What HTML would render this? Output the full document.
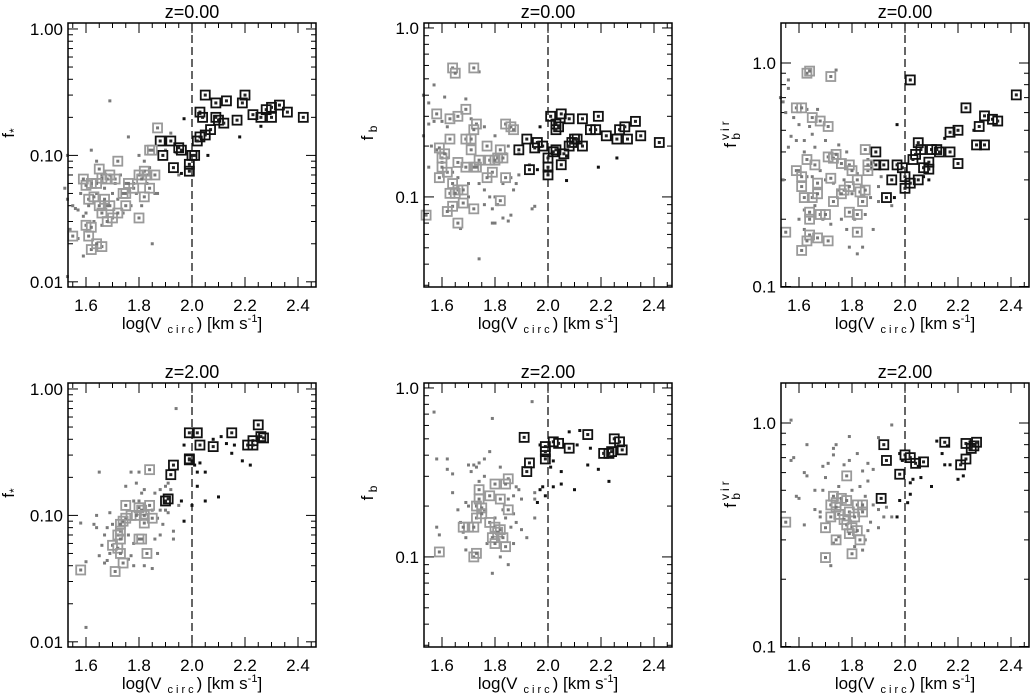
<!DOCTYPE html>
<html><head><meta charset="utf-8"><style>
html,body{margin:0;padding:0;background:#fff;}
svg{display:block;font-family:"Liberation Sans",sans-serif;}
</style></head><body>
<svg id="fig" width="1031" height="695" viewBox="0 0 1031 695" xmlns="http://www.w3.org/2000/svg"></svg>
<script>
// ---- data: [logVcirc, value] pairs ----
const p1Boxed=[[2.05,0.30],[2.09,0.26],[2.13,0.27],[2.19,0.26],[2.20,0.30],[2.03,0.22],[2.04,0.20],[2.09,0.20],[2.10,0.19],[2.12,0.18],[2.17,0.19],[2.23,0.21],[2.26,0.20],[2.28,0.23],[2.30,0.24],[2.30,0.20],[2.33,0.25],[2.36,0.22],[2.42,0.20],[2.07,0.16],[2.05,0.145],[2.03,0.14],[2.02,0.13],[2.00,0.10],[2.01,0.10],[1.99,0.085],[1.99,0.075],[1.96,0.11],[1.95,0.115],[1.92,0.13],[1.89,0.10],[1.93,0.08],
[1.87,0.165],[1.88,0.13],[1.84,0.11],[1.85,0.11],[1.83,0.07],[1.86,0.07],[1.82,0.075],[1.80,0.07],[1.81,0.065],[1.84,0.055],[1.82,0.047],[1.80,0.032],[1.78,0.055],[1.76,0.06],[1.75,0.05],[1.74,0.05],[1.72,0.09],[1.71,0.065],[1.69,0.07],[1.68,0.065],[1.66,0.066],[1.65,0.078],[1.64,0.06],[1.62,0.06],[1.60,0.058],[1.61,0.045],[1.63,0.047],[1.65,0.04],[1.67,0.045],[1.69,0.04],[1.66,0.035],[1.70,0.032],[1.68,0.03],[1.72,0.035],[1.75,0.04],[1.60,0.028],[1.62,0.027],[1.55,0.023],[1.61,0.023],[1.62,0.018],[1.66,0.019],[1.64,0.02],[1.59,0.065]];
const p1Small=[[1.53,0.10],[1.52,0.055],[1.53,0.045],[1.55,0.04],[1.56,0.038],[1.58,0.05],[1.57,0.037],[1.59,0.033],[1.60,0.035],[1.54,0.026],[1.57,0.022],[1.59,0.016],[1.62,0.11],[1.64,0.09],[1.66,0.07],[1.69,0.27],[1.76,0.14],[1.75,0.06],[1.78,0.06],[1.80,0.10],[1.82,0.09],[1.84,0.08],[1.86,0.05],[1.87,0.05],[1.85,0.02],[1.77,0.04],[1.74,0.035],[1.72,0.045],[1.70,0.05],[1.68,0.04],[1.66,0.028],[1.63,0.03],[1.61,0.04],[1.71,0.06],[1.73,0.07],[1.79,0.05],[1.81,0.04],[1.83,0.06],[1.53,0.011],[1.64,0.05],[1.67,0.055],
[1.97,0.195],[1.92,0.15],[1.90,0.11],[1.94,0.105],[1.95,0.07],[1.96,0.072],[2.06,0.10],[2.18,0.14],[2.26,0.17],[2.03,0.215]];
const p2Boxed=[[2.01,0.30],[2.05,0.31],[2.03,0.27],[2.04,0.26],[2.03,0.25],[2.08,0.29],[2.13,0.29],[2.19,0.30],[2.16,0.25],[2.18,0.25],[2.22,0.23],[2.26,0.22],[2.27,0.25],[2.29,0.26],[2.30,0.22],[2.33,0.28],[2.35,0.23],[2.42,0.21],[2.10,0.22],[2.09,0.21],[2.11,0.22],[2.13,0.20],[2.08,0.20],[2.06,0.18],[2.02,0.185],[2.03,0.19],[2.00,0.17],[2.00,0.15],[2.00,0.135],[1.98,0.20],[1.96,0.21],[1.95,0.195],[1.92,0.22],[1.89,0.19],[1.93,0.145],[2.05,0.155],
[1.64,0.58],[1.65,0.54],[1.72,0.58],[1.58,0.31],[1.63,0.29],[1.66,0.30],[1.69,0.33],[1.73,0.27],[1.72,0.25],[1.69,0.22],[1.71,0.22],[1.63,0.22],[1.84,0.27],[1.86,0.26],[1.87,0.25],[1.77,0.20],[1.82,0.19],[1.81,0.17],[1.83,0.17],[1.78,0.165],[1.80,0.165],[1.74,0.165],[1.72,0.15],[1.69,0.15],[1.66,0.16],[1.60,0.17],[1.59,0.195],[1.61,0.18],[1.62,0.14],[1.59,0.13],[1.64,0.12],[1.66,0.11],[1.68,0.11],[1.63,0.105],[1.65,0.105],[1.64,0.088],[1.62,0.082],[1.68,0.092],[1.72,0.085],[1.66,0.07],[1.54,0.078],[1.79,0.14],[1.77,0.13],[1.84,0.13],[1.82,0.095],[1.71,0.19],[1.60,0.15],[1.73,0.15]];
const p2Small=[[1.53,0.40],[1.55,0.36],[1.57,0.46],[1.61,0.39],[1.69,0.38],[1.74,0.55],[1.55,0.27],[1.57,0.28],[1.60,0.28],[1.62,0.26],[1.71,0.29],[1.76,0.26],[1.80,0.23],[1.85,0.20],[1.53,0.23],[1.56,0.20],[1.58,0.19],[1.60,0.16],[1.62,0.17],[1.55,0.15],[1.64,0.14],[1.66,0.13],[1.70,0.12],[1.74,0.12],[1.76,0.11],[1.78,0.10],[1.80,0.10],[1.83,0.12],[1.86,0.13],[1.88,0.12],[1.87,0.11],[1.79,0.085],[1.81,0.09],[1.70,0.10],[1.67,0.065],[1.79,0.07],[1.80,0.07],[1.83,0.075],[1.86,0.078],[1.85,0.072],[1.74,0.043],[1.76,0.09],[1.89,0.135],[1.84,0.18],
[1.97,0.26],[1.93,0.155],[1.96,0.145],[1.94,0.085],[1.95,0.088],[2.07,0.125],[2.19,0.15],[2.26,0.17],[2.07,0.175],[1.89,0.18]];
const p3Boxed=[[2.02,0.84],[2.42,0.72],[2.23,0.63],[2.30,0.58],[2.33,0.56],[2.35,0.55],[2.28,0.52],[2.17,0.49],[2.20,0.50],[2.05,0.44],[2.06,0.41],[2.10,0.41],[2.12,0.41],[2.13,0.40],[2.17,0.40],[2.04,0.39],[2.03,0.37],[2.09,0.36],[2.07,0.34],[2.09,0.335],[2.20,0.355],[2.27,0.43],[2.30,0.43],[1.99,0.34],[1.97,0.35],[1.92,0.35],[1.89,0.35],[1.89,0.40],[2.00,0.31],[2.02,0.29],[2.05,0.30],[1.95,0.30],[1.93,0.25],[2.00,0.275],
[1.63,0.90],[1.64,0.92],[1.72,0.87],[1.59,0.63],[1.65,0.57],[1.68,0.55],[1.71,0.52],[1.85,0.41],[1.63,0.37],[1.71,0.38],[1.73,0.375],[1.74,0.39],[1.66,0.35],[1.79,0.35],[1.76,0.355],[1.80,0.33],[1.86,0.33],[1.86,0.35],[1.59,0.33],[1.61,0.31],[1.61,0.28],[1.67,0.29],[1.72,0.305],[1.77,0.27],[1.79,0.28],[1.82,0.30],[1.83,0.265],[1.85,0.27],[1.76,0.26],[1.62,0.25],[1.65,0.25],[1.67,0.26],[1.73,0.24],[1.64,0.215],[1.68,0.21],[1.70,0.21],[1.64,0.20],[1.79,0.215],[1.84,0.24],[1.82,0.21],[1.55,0.175],[1.64,0.17],[1.67,0.165],[1.71,0.16],[1.63,0.16],[1.61,0.145],[1.82,0.175],[1.61,0.63]];
const p3Small=[[1.53,0.70],[1.54,0.67],[1.56,0.77],[1.56,0.84],[1.74,0.93],[1.55,0.60],[1.58,0.57],[1.60,0.53],[1.63,0.62],[1.64,0.52],[1.67,0.62],[1.57,0.47],[1.59,0.45],[1.62,0.45],[1.65,0.48],[1.56,0.42],[1.62,0.40],[1.66,0.42],[1.70,0.45],[1.75,0.43],[1.78,0.40],[1.60,0.33],[1.63,0.31],[1.65,0.31],[1.68,0.33],[1.70,0.30],[1.73,0.29],[1.77,0.30],[1.82,0.32],[1.86,0.37],[1.88,0.36],[1.90,0.28],[1.87,0.25],[1.84,0.24],[1.80,0.26],[1.75,0.27],[1.62,0.22],[1.66,0.23],[1.69,0.20],[1.72,0.19],[1.76,0.20],[1.78,0.18],[1.81,0.20],[1.85,0.21],[1.88,0.18],[1.90,0.24],[1.79,0.15],[1.84,0.15],[1.82,0.14],[1.60,0.20],[1.62,0.18],[1.54,0.30],
[1.97,0.53],[1.96,0.25],[1.95,0.23],[2.07,0.31],[2.09,0.30],[2.15,0.46],[2.26,0.50],[1.91,0.31]];
const p4Boxed=[[1.99,0.45],[2.02,0.45],[2.15,0.45],[2.25,0.52],[2.26,0.42],[2.27,0.41],[2.23,0.39],[2.21,0.36],[2.23,0.36],[2.03,0.36],[2.08,0.35],[1.99,0.28],[1.99,0.275],
[1.84,0.23],[1.93,0.25],[1.92,0.21],[1.90,0.13],[1.91,0.135],[1.75,0.12],[1.80,0.115],[1.81,0.11],[1.84,0.12],[1.77,0.10],[1.79,0.10],[1.82,0.10],[1.85,0.095],[1.75,0.095],[1.74,0.09],[1.73,0.085],[1.82,0.087],[1.73,0.075],[1.72,0.07],[1.73,0.065],[1.80,0.065],[1.81,0.065],[1.70,0.058],[1.72,0.055],[1.73,0.05],[1.83,0.05],[1.74,0.042],[1.71,0.036],[1.58,0.037]];
const p4Small=[[1.58,0.087],[1.60,0.043],[1.64,0.10],[1.63,0.085],[1.64,0.08],[1.65,0.22],[1.69,0.105],[1.68,0.08],[1.67,0.07],[1.66,0.058],[1.65,0.048],[1.67,0.042],[1.68,0.044],[1.69,0.05],[1.77,0.22],[1.80,0.22],[1.79,0.18],[1.75,0.17],[1.81,0.15],[1.82,0.16],[1.80,0.13],[1.78,0.13],[1.86,0.15],[1.88,0.16],[1.90,0.17],[1.91,0.18],[1.92,0.16],[1.88,0.11],[1.90,0.11],[1.91,0.105],[1.87,0.095],[1.89,0.085],[1.93,0.075],[1.93,0.065],[1.88,0.07],[1.86,0.065],[1.87,0.05],[1.85,0.038],[1.82,0.04],[1.78,0.04],[1.77,0.048],[1.76,0.045],[1.78,0.06],[1.76,0.07],[1.96,0.13],[1.97,0.09],[2.00,0.12],[1.60,0.013],[1.70,0.085],[1.85,0.11],
[1.94,0.70],[1.97,0.36],[2.03,0.26],[2.01,0.25],[2.02,0.22],[2.02,0.17],[2.05,0.22],[2.05,0.13],[2.10,0.14],[2.08,0.40],[2.11,0.42],[2.13,0.37],[2.16,0.36],[2.15,0.31],[2.19,0.27],[2.22,0.25],[1.95,0.12],[2.00,0.27]];
const p5Boxed=[[2.02,0.48],[2.04,0.47],[2.15,0.53],[2.25,0.50],[2.27,0.48],[2.28,0.43],[2.24,0.42],[2.23,0.41],[2.21,0.41],[2.08,0.44],[1.99,0.45],[1.99,0.42],[1.99,0.38],
[1.91,0.51],[1.93,0.36],[1.92,0.32],[1.85,0.29],[1.84,0.27],[1.80,0.27],[1.74,0.25],[1.78,0.23],[1.82,0.22],[1.74,0.22],[1.73,0.20],[1.75,0.195],[1.85,0.19],[1.73,0.17],[1.75,0.18],[1.70,0.15],[1.72,0.15],[1.78,0.16],[1.80,0.15],[1.82,0.145],[1.81,0.14],[1.79,0.13],[1.83,0.13],[1.80,0.12],[1.84,0.115],[1.72,0.10],[1.73,0.105],[1.59,0.107],[1.68,0.15]];
const p5Small=[[1.57,0.72],[1.58,0.38],[1.62,0.38],[1.62,0.33],[1.64,0.31],[1.64,0.24],[1.58,0.15],[1.59,0.135],[1.66,0.19],[1.67,0.16],[1.68,0.14],[1.69,0.13],[1.70,0.35],[1.72,0.35],[1.74,0.36],[1.73,0.34],[1.76,0.38],[1.78,0.42],[1.79,0.66],[1.76,0.30],[1.71,0.32],[1.74,0.28],[1.69,0.21],[1.70,0.20],[1.76,0.19],[1.80,0.17],[1.83,0.19],[1.85,0.22],[1.87,0.23],[1.88,0.26],[1.89,0.25],[1.90,0.22],[1.87,0.18],[1.88,0.16],[1.90,0.145],[1.87,0.12],[1.92,0.13],[1.95,0.17],[1.96,0.21],[1.95,0.22],[1.97,0.25],[1.98,0.26],[1.99,0.23],[1.86,0.15],[1.82,0.10],[1.85,0.09],[1.79,0.08],[1.77,0.12],[1.69,0.11],[1.84,0.17],[1.82,0.34],
[1.94,0.83],[1.97,0.46],[1.98,0.40],[2.01,0.34],[2.02,0.37],[2.02,0.26],[2.05,0.32],[2.05,0.27],[2.10,0.25],[2.08,0.55],[2.11,0.46],[2.12,0.56],[2.16,0.44],[2.15,0.35],[2.19,0.33],[2.23,0.28],[1.95,0.24]];
const p6Boxed=[[2.00,0.72],[2.02,0.70],[2.04,0.66],[2.07,0.67],[2.15,0.82],[2.23,0.81],[2.25,0.77],[2.26,0.79],[2.27,0.82],[2.23,0.69],[2.21,0.65],[1.98,0.59],
[1.92,0.80],[1.93,0.68],[1.91,0.46],[1.78,0.58],[1.73,0.47],[1.74,0.44],[1.72,0.43],[1.74,0.42],[1.76,0.46],[1.78,0.45],[1.82,0.43],[1.84,0.43],[1.84,0.40],[1.79,0.40],[1.75,0.39],[1.72,0.38],[1.77,0.37],[1.81,0.38],[1.78,0.35],[1.80,0.34],[1.79,0.32],[1.82,0.33],[1.70,0.34],[1.74,0.30],[1.83,0.30],[1.80,0.26],[1.70,0.25],[1.55,0.36]];
const p6Small=[[1.57,1.03],[1.58,0.70],[1.57,0.68],[1.63,0.80],[1.62,0.60],[1.63,0.58],[1.59,0.47],[1.66,0.50],[1.69,0.50],[1.69,0.64],[1.71,0.66],[1.73,0.77],[1.74,0.80],[1.73,0.72],[1.77,0.65],[1.79,0.68],[1.79,0.87],[1.82,0.73],[1.86,0.66],[1.90,0.86],[1.84,0.61],[1.88,0.62],[1.86,0.55],[1.83,0.52],[1.80,0.50],[1.70,0.57],[1.75,0.52],[1.68,0.40],[1.66,0.41],[1.68,0.38],[1.71,0.36],[1.85,0.47],[1.88,0.43],[1.90,0.41],[1.93,0.42],[1.92,0.38],[1.95,0.38],[1.90,0.34],[1.87,0.36],[1.86,0.33],[1.85,0.30],[1.84,0.27],[1.75,0.31],[1.73,0.29],[1.72,0.23],[1.81,0.28],[1.62,0.35],[1.97,0.38],[1.98,0.45],[1.60,0.46],
[1.95,0.98],[1.98,0.73],[1.99,0.68],[2.03,0.56],[2.02,0.54],[2.05,0.64],[2.06,0.57],[2.02,0.48],[2.10,0.52],[2.12,0.83],[2.14,0.73],[2.16,0.79],[2.17,0.65],[2.20,0.56],[2.22,0.58],[2.15,0.65],[2.01,0.44]];
const xTicks=[1.6,1.8,2.0,2.2,2.4];
const xTickLabels=["1.6","1.8","2.0","2.2","2.4"];
const titles=["z=0.00","z=0.00","z=0.00","z=2.00","z=2.00","z=2.00"];
const yTicksFstar=[0.01,0.1,1.0], yLabFstar=["0.01","0.10","1.00"];
const yTicksFb=[0.1,1.0], yLabFb=["0.1","1.0"];

const NS="http://www.w3.org/2000/svg";
const svg=document.getElementById('fig');
function mk(tag,attrs,parent){const e=document.createElementNS(NS,tag);for(const k in attrs)e.setAttribute(k,attrs[k]);(parent||svg).appendChild(e);return e;}

const colLeft=[68,424,781], rowTop=[23,383], W=248, H=264;
const yr={fstar:[Math.log10(0.0091),Math.log10(1.115)],fb:[Math.log10(0.0293),Math.log10(1.07)],fbvir:[Math.log10(0.0995),Math.log10(1.51)]};

const panels=[
 {c:0,r:0,t:'fstar',b:p1Boxed,s:p1Small,name:'fstar-z0'},
 {c:1,r:0,t:'fb',b:p2Boxed,s:p2Small,name:'fb-z0'},
 {c:2,r:0,t:'fbvir',b:p3Boxed,s:p3Small,name:'fbvir-z0'},
 {c:0,r:1,t:'fstar',b:p4Boxed,s:p4Small,name:'fstar-z2'},
 {c:1,r:1,t:'fb',b:p5Boxed,s:p5Small,name:'fb-z2'},
 {c:2,r:1,t:'fbvir',b:p6Boxed,s:p6Small,name:'fbvir-z2'}];

panels.forEach((p,i)=>{
  const L=colLeft[p.c], T=rowTop[p.r], B=T+H, R=L+W;
  const g=mk('g',{});
  
  
  const xs=v=>L+124+(v-2)*265;
  const [lo,hi]=yr[p.t];
  const ys=f=>B-(Math.log10(f)-lo)/(hi-lo)*H;
  const tt=mk('text',{x:L+W/2,y:T-5,'text-anchor':'middle','font-size':18,fill:'#000'},g);
  tt.textContent=titles[i];
  
  
  for(let v=1.55;v<=2.451;v+=0.05){
    const vv=Math.round(v*100)/100;
    const major=xTicks.some(t=>Math.abs(t-vv)<1e-6);
    const len=major?10:5, x=xs(vv);
    mk('line',{x1:x,y1:B,x2:x,y2:B-len,stroke:'#000','stroke-width':1},g);
    mk('line',{x1:x,y1:T,x2:x,y2:T+len,stroke:'#000','stroke-width':1},g);
  }
  xTicks.forEach((t,k)=>{
    const lab=mk('text',{x:xs(t),y:B+24,'text-anchor':'middle','font-size':17},g);
    lab.textContent=xTickLabels[k];
    
    
  });
  const xt=mk('text',{x:L+W/2,y:B+42,'text-anchor':'middle','font-size':17},g);
  xt.innerHTML='log(V<tspan font-size="11" dy="4" letter-spacing="3"> circ</tspan><tspan dy="-4">) [km s</tspan><tspan font-size="11" dy="-7">-1</tspan><tspan dy="7">]</tspan>';
  
  
  for(let n=-3;n<=0;n++){for(let k=1;k<=9;k++){
    const f=k*Math.pow(10,n); const lf=Math.log10(f);
    if(lf<lo||lf>hi)continue;
    const len=(k===1)?10:5, y=ys(f);
    mk('line',{x1:L,y1:y,x2:L+len,y2:y,stroke:'#000','stroke-width':1},g);
    mk('line',{x1:R,y1:y,x2:R-len,y2:y,stroke:'#000','stroke-width':1},g);
  }}
  const yt=p.t==='fstar'?yTicksFstar:yTicksFb, yl=p.t==='fstar'?yLabFstar:yLabFb;
  yt.forEach((t,k)=>{
    const lab=mk('text',{x:L-5,y:ys(t)+6,'text-anchor':'end','font-size':17},g);
    lab.textContent=yl[k];
    
    
  });
  const ax=L-(p.t==='fstar'?54:(p.t==='fb'?51:45)), ay=T+H/2-22;
  const yti=mk('text',{transform:`translate(${ax},${ay}) rotate(-90)`,'text-anchor':'middle','font-size':17},g);
  if(p.t==='fstar') yti.innerHTML='f<tspan font-size="12" dy="4">*</tspan>';
  else if(p.t==='fb') yti.innerHTML='f<tspan font-size="12" dy="4"> b</tspan>';
  else yti.innerHTML='f<tspan font-size="12" dy="4"> b</tspan><tspan font-size="12" dy="-11" dx="-7" letter-spacing="3">vir</tspan>';
  
  
  const dl=mk('line',{x1:xs(2),y1:T,x2:xs(2),y2:B,stroke:'#000','stroke-width':1.2,'stroke-dasharray':'8,4'},g);
  
  
  p.s.forEach(d=>{
    const x=xs(d[0]), y=ys(d[1]);
    if(y<T||y>B)return;
    const col=d[0]<1.955?'#7a7a7a':'#111';
    const m=mk('rect',{x:x-1.5,y:y-1.5,width:3,height:3,fill:col},g);
    
    
  });
  p.b.forEach(d=>{
    const x=xs(d[0]), y=ys(d[1]);
    if(y<T||y>B)return;
    const dark=d[0]>=1.88;
    const col=dark?'#111':'#9a9a9a';
    const m=mk('rect',{x:x-4.5,y:y-4.5,width:9,height:9,fill:'none',stroke:col,'stroke-width':1.8},g);
    
    
    mk('rect',{x:x-1.5,y:y-1.5,width:3,height:3,fill:dark?'#222':'#777'},g);
  });
  const fr=mk('rect',{x:L,y:T,width:W,height:H,fill:'none',stroke:'#000','stroke-width':1.5},g);
  
  
});
</script>
</body></html>
